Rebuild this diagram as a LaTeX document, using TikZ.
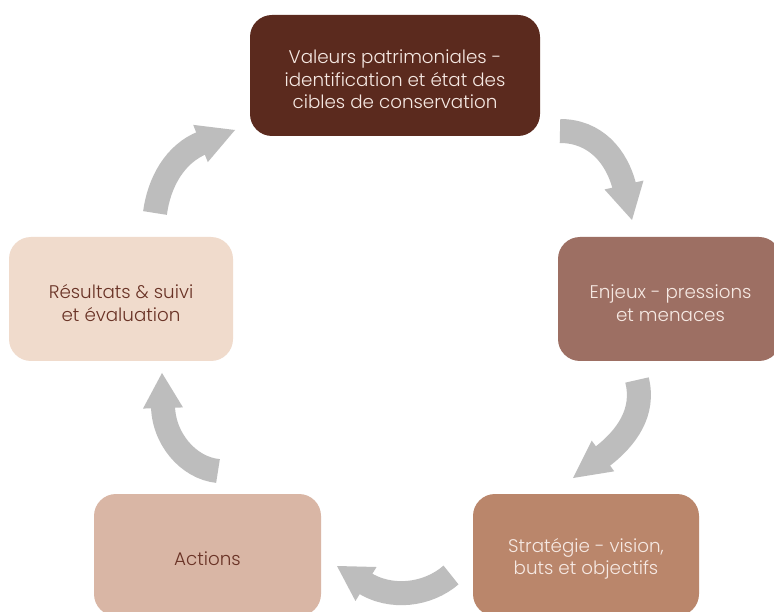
\documentclass[tikz,border=0pt]{standalone}
\usepackage{fontspec}
\setmainfont{Poppins}[UprightFont=* Light]
\usetikzlibrary{calc}
\definecolor{boxA}{HTML}{5B2A1E}
\definecolor{boxB}{HTML}{9D6F63}
\definecolor{boxC}{HTML}{BA866B}
\definecolor{boxD}{HTML}{D9B6A5}
\definecolor{boxE}{HTML}{F0DBCC}
\definecolor{txtlight}{HTML}{F6E9E3}
\definecolor{txtdark}{HTML}{6A3326}
\definecolor{arrowgray}{HTML}{BDBDBD}
\begin{document}
\begin{tikzpicture}[x=1pt,y=-1pt,
  box/.style={rounded corners=22pt, inner sep=0pt},
  boxtext/.style={align=center, inner sep=0pt,
    font=\fontsize{18.3}{22.5}\selectfont},
  shaft/.style={draw=arrowgray, line width=24pt, shorten >=-3pt},
  head/.style={fill=arrowgray}]
\useasboundingbox (0,0) rectangle (774,612);
\clip (0,0) rectangle (774,612);
\fill[white] (0,0) rectangle (774,612);

% boxes
\node[box, fill=boxA, minimum width=290pt, minimum height=121pt]
  (valeurs) at (395,75.5) {};
\node[boxtext, text=txtlight] (valeurstxt) at ([yshift=-4pt]valeurs.center)
  {Valeurs patrimoniales -\\identification et état des\\cibles de conservation};
\node[box, fill=boxB, minimum width=223pt, minimum height=124pt]
  (enjeux) at (669.5,299) {};
\node[boxtext, text=txtlight] (enjeuxtxt) at ([yshift=-4pt,xshift=1pt]enjeux.center)
  {Enjeux - pressions\\et menaces};
\node[box, fill=boxC, minimum width=226pt, minimum height=122pt]
  (strategie) at (586,555) {};
\node[boxtext, text=txtlight] (strategietxt) at ([yshift=-4pt]strategie.center)
  {Stratégie - vision,\\buts et objectifs};
\node[box, fill=boxD, minimum width=227pt, minimum height=122pt]
  (actions) at (207.5,555) {};
\node[boxtext, text=txtdark] (actionstxt) at ([yshift=-4pt]actions.center)
  {Actions};
\node[box, fill=boxE, minimum width=224pt, minimum height=124pt]
  (resultats) at (121,299) {};
\node[boxtext, text=txtdark] (resultatstxt) at ([yshift=-4pt]resultats.center)
  {Résultats \& suivi\\et évaluation};

% arrow 1: valeurs -> enjeux
\coordinate (a1s) at (560,131);
\coordinate (a1m) at (624,185);
\coordinate (a1t) at (632,220);
\draw[shaft] (a1s) .. controls (595,131) and (617,156) .. (a1m);
\fill[head] ($(a1m)!20pt!90:(a1t)$) -- (a1t) -- ($(a1m)!20pt!-90:(a1t)$) -- cycle;

% arrow 2: enjeux -> strategie
\coordinate (a2s) at (637,380);
\coordinate (a2m) at (603,456);
\coordinate (a2t) at (573,478);
\draw[shaft] (a2s) .. controls (645,412) and (627,438) .. (a2m);
\fill[head] ($(a2m)!19pt!90:(a2t)$) -- (a2t) -- ($(a2m)!19pt!-90:(a2t)$) -- cycle;

% arrow 3: strategie -> actions
\coordinate (a3s) at (451,575);
\coordinate (a3m) at (366,584);
\coordinate (a3t) at (337,566);
\draw[shaft] (a3s) .. controls (428,595) and (391,600) .. (a3m);
\fill[head] ($(a3m)!20pt!90:(a3t)$) -- (a3t) -- ($(a3m)!20pt!-90:(a3t)$) -- cycle;

% arrow 4: actions -> resultats
\coordinate (a4s) at (218,471);
\coordinate (a4m) at (163,408);
\coordinate (a4t) at (162,373);
\draw[shaft] (a4s) .. controls (188,468) and (163,438) .. (a4m);
\fill[head] ($(a4m)!20pt!90:(a4t)$) -- (a4t) -- ($(a4m)!20pt!-90:(a4t)$) -- cycle;

% arrow 5: resultats -> valeurs
\coordinate (a5s) at (155,213);
\coordinate (a5m) at (200.5,143.5);
\coordinate (a5t) at (235,130);
\draw[shaft] (a5s) .. controls (159,183) and (174.5,153.6) .. (a5m);
\fill[head] ($(a5m)!20pt!90:(a5t)$) -- (a5t) -- ($(a5m)!20pt!-90:(a5t)$) -- cycle;
\end{tikzpicture}
\end{document}
